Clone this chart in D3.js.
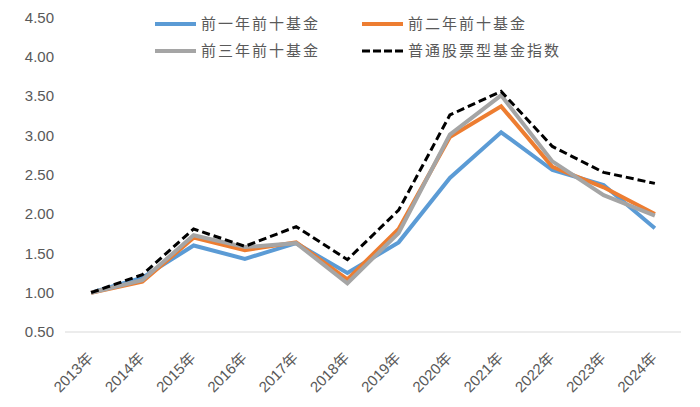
<!DOCTYPE html>
<html><head><meta charset="utf-8">
<script src="https://cdn.jsdelivr.net/npm/d3@7"></script>
<style>body{margin:0;background:#fff;}svg{display:block;}</style>
</head><body>
<svg id="c" width="700" height="407"></svg>
<script>
const years = ["2013年","2014年","2015年","2016年","2017年","2018年","2019年","2020年","2021年","2022年","2023年","2024年"];
const top1 = [1.00,1.19,1.60,1.43,1.63,1.25,1.64,2.46,3.04,2.56,2.37,1.82];
const top2 = [1.00,1.14,1.70,1.54,1.64,1.17,1.81,2.98,3.37,2.60,2.34,2.00];
const top3 = [1.00,1.16,1.73,1.58,1.63,1.12,1.76,3.01,3.51,2.67,2.24,1.98];
const index = [1.00,1.23,1.81,1.59,1.84,1.42,2.05,3.26,3.56,2.86,2.53,2.39];
const yTicks = [0.5,1.0,1.5,2.0,2.5,3.0,3.5,4.0,4.5];
const seriesNames = ["前一年前十基金","前二年前十基金","前三年前十基金","普通股票型基金指数"];
const colors = ["#5B9BD5","#ED7D31","#A5A5A5","#000000"];

const svg = d3.select("#c");
const font = "'Liberation Sans','Noto Sans CJK SC',sans-serif";
const x = d3.scaleBand().domain(years).range([65.5, 680.5]).padding(0);
const cx = d => x(d) + x.bandwidth()/2;
const y = d3.scaleLinear().domain([0.5, 4.5]).range([332, 17.5]);

// y labels
svg.append("g").selectAll("text").data(yTicks).join("text")
  .attr("x", 54).attr("y", d => y(d)).attr("dy", "0.35em")
  .attr("text-anchor", "end").attr("font-family", font).attr("font-size", 15)
  .attr("fill", "#595959").text(d => d.toFixed(2));

// baseline
svg.append("line").attr("x1", 65).attr("x2", 681).attr("y1", y(0.5)).attr("y2", y(0.5))
  .attr("stroke", "#D9D9D9").attr("stroke-width", 1);

// x labels
svg.append("g").selectAll("text").data(years).join("text")
  .attr("transform", d => `translate(${cx(d)+3},359) rotate(-45)`)
  .attr("text-anchor", "end").attr("font-family", font).attr("font-size", 15)
  .attr("fill", "#595959").text(d => d);

const line = d3.line().x((d,i) => cx(years[i])).y(d => y(d));
const all = [top1, top2, top3, index];
all.forEach((s, k) => {
  svg.append("path").datum(s).attr("d", line).attr("fill", "none")
    .attr("stroke", colors[k]).attr("stroke-width", k === 3 ? 3 : 4)
    .attr("stroke-linejoin", "miter")
    .attr("stroke-dasharray", k === 3 ? "8,4" : null);
});

// legend
const leg = [
  {i:0, lx:155, ly:24},
  {i:1, lx:362, ly:24},
  {i:2, lx:155, ly:51},
  {i:3, lx:362, ly:51}
];
const lg = svg.append("g");
leg.forEach(L => {
  lg.append("line").attr("x1", L.lx).attr("x2", L.lx+41).attr("y1", L.ly).attr("y2", L.ly)
    .attr("stroke", colors[L.i]).attr("stroke-width", L.i === 3 ? 3 : 4)
    .attr("stroke-dasharray", L.i === 3 ? "8,3" : null);
  lg.append("text").attr("x", L.lx+46).attr("y", L.ly).attr("dy", "0.35em")
    .attr("font-family", font).attr("font-size", 15).attr("letter-spacing", 2)
    .attr("fill", "#595959").text(seriesNames[L.i]);
});
</script>
</body></html>
